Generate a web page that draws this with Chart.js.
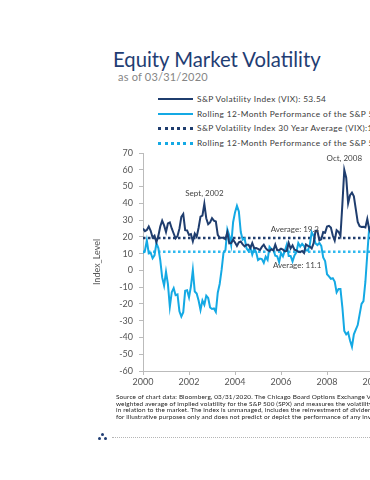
<!DOCTYPE html>
<html>
<head>
<meta charset="utf-8">
<script src="https://cdn.jsdelivr.net/npm/chart.js@4/dist/chart.umd.min.js"></script>
<style>
  html, body { margin: 0; padding: 0; background: #fff; }
  body { width: 370px; height: 480px; overflow: hidden; position: relative; font-family: Lato, "DejaVu Sans", sans-serif; }
  #title { position: absolute; left: 113px; top: 47px; font-size: 20.3px; color: #1f3d73; white-space: nowrap; }
  #sub { position: absolute; left: 118px; top: 70px; font-size: 11px; letter-spacing: 0.2px; color: #858585; white-space: nowrap; }
  .lg { position: absolute; left: 158px; height: 12px; white-space: nowrap; font-size: 8.3px; letter-spacing: 0.4px; color: #3a3a3a; }
  .lg i { position: absolute; left: 0; top: 5px; width: 35px; }
  .lg span { position: absolute; left: 39px; top: 0; line-height: 12px; }
  #wrap { position: absolute; left: 0; top: 140px; }
  #note { position: absolute; left: 116px; top: 394px; font-size: 6.4px; line-height: 6.5px; letter-spacing: 0.15px; color: #1a1a1a; white-space: nowrap; }
  #rule { position: absolute; left: 112px; top: 437px; width: 260px; border-top: 1px dotted #b5b5b5; }
  .dot { position: absolute; width: 3px; height: 3px; border-radius: 50%; background: #1f3d73; }
</style>
</head>
<body>
<div id="title">Equity Market Volatility</div>
<div id="sub">as of 03/31/2020</div>
<div id="legend"></div>
<div id="wrap"><canvas id="chart" width="627" height="255"></canvas></div>
<div id="note">
  Source of chart data: Bloomberg, 03/31/2020. The Chicago Board Options Exchange Volatility Index (VIX) is a<br>
  weighted average of implied volatility for the S&amp;P 500 (SPX) and measures the volatility of the market<br>
  in relation to the market. The index is unmanaged, includes the reinvestment of dividends and is<br>
  for illustrative purposes only and does not predict or depict the performance of any investment.
</div>
<div id="rule"></div>
<div class="dot" style="left:101px;top:433px"></div>
<div class="dot" style="left:98px;top:437px"></div>
<div class="dot" style="left:104px;top:437px"></div>
<script>
// ===== Dados (mensal, jan/2000 em diante) =====
const startYear = 2000;
const endX = 2020.17;
const xTicks = [2000, 2002, 2004, 2006, 2008, 2010, 2012, 2014, 2016, 2018, 2020];
const yTicks = [70, 60, 50, 40, 30, 20, 10, 0, -10, -20, -30, -40, -50, -60];

const vix = [
  24.95, 23.37, 24.11, 26.20, 23.65, 19.54, 20.74, 16.84, 20.57, 26.20, 29.65, 26.85,
  22.9, 28.0, 28.6, 25.0, 22.0, 19.1, 20.5, 24.9, 31.9, 33.6, 24.0, 23.8,
  21.09, 21.59, 17.40, 21.91, 19.98, 25.40, 32.03, 32.64, 39.69, 31.10, 27.50, 28.62,
  31.17, 29.63, 29.15, 21.21, 19.47, 19.52, 19.49, 18.63, 22.72, 16.10, 16.32, 18.31,
  16.63, 14.55, 16.74, 17.19, 15.50, 14.34, 15.32, 15.29, 13.34, 16.27, 13.24, 13.29,
  12.82, 12.08, 14.02, 15.31, 13.29, 12.04, 11.57, 12.60, 11.92, 15.32, 12.06, 12.07,
  12.95, 12.34, 11.39, 11.59, 16.44, 13.08, 14.95, 12.31, 11.98, 11.10, 10.91, 11.56,
  10.42, 15.42, 14.64, 14.22, 13.05, 16.23, 23.52, 23.38, 18.00, 18.53, 22.87, 22.50,
  26.20, 26.54, 25.61, 20.79, 17.83, 23.95, 22.94, 20.65, 39.39, 59.89, 55.28, 40.00,
  44.84, 46.35, 44.14, 36.50, 28.92, 26.35, 25.92, 26.01, 25.61, 30.69, 24.51, 21.68,
  24.62, 19.50
];

const spxRolling = [
  10.3, 11.7, 17.9, 10.1, 10.5, 7.2, 9.0, 16.3, 13.3, 6.1, -4.2, -9.1,
  -0.9, -8.2, -21.7, -13.0, -10.6, -14.8, -14.3, -24.4, -27.5, -24.9, -12.2, -11.9,
  -16.1, -9.5, 0.2, -12.6, -13.8, -18.0, -23.6, -18.0, -20.5, -15.1, -16.5, -22.1,
  -23.0, -22.7, -24.8, -13.3, -8.1, 0.3, 10.6, 12.1, 24.4, 20.8, 15.1, 28.7,
  34.6, 38.5, 35.1, 22.9, 18.3, 19.1, 13.2, 11.5, 13.9, 9.4, 12.9, 10.9,
  6.2, 7.0, 6.7, 4.5, 8.2, 6.3, 14.0, 12.6, 12.3, 8.7, 8.4, 4.9,
  10.4, 8.4, 11.7, 15.4, 8.6, 8.6, 5.4, 8.9, 10.8, 16.3, 14.2, 15.8,
  14.5, 12.0, 11.8, 15.2, 22.8, 20.6, 16.1, 15.1, 16.4, 14.6, 7.7, 5.5,
  -2.3, -3.6, -5.1, -4.7, -6.7, -13.1, -11.1, -11.1, -22.0, -36.1, -38.1, -37.0,
  -41.8, -45.5, -38.1, -35.3, -32.6, -26.2, -20.0, -18.3, -6.9, 9.8, 25.4, 26.5,
  33.1, 53.6
];

const vixAvg = 19.3;
const spxAvg = 11.1;

const seriesNames = [
  'S&P Volatility Index (VIX): 53.54',
  'Rolling 12-Month Performance of the S&P 500 Total Return Index',
  'S&P Volatility Index 30 Year Average (VIX):19.3',
  'Rolling 12-Month Performance of the S&P 500 Total Return Average: 11.1'
];

const notes = [
  { x: 2002.67, y: 39.69, text: 'Sept, 2002', dy: -10 },
  { x: 2008.75, y: 59.89, text: 'Oct, 2008', dy: -12 },
  { x: 2006.6, y: vixAvg, text: 'Average: 19.3', dy: -9 },
  { x: 2006.7, y: spxAvg, text: 'Average: 11.1', dy: 14 }
];

// ===== Helpers =====
const NAVY = '#1f3d6e';
const SKY = '#14a9e4';
const toPts = arr => arr.map((v, i) => ({ x: startYear + i / 12, y: v }));
const flat = v => [{ x: startYear, y: v }, { x: endX, y: v }];

// ===== Legenda (HTML) =====
const legendStyles = [
  `border-top:2px solid ${NAVY}`,
  `border-top:2px solid ${SKY}`,
  `border-top:3px dotted ${NAVY}`,
  `border-top:3px dotted ${SKY}`
];
const legendTops = [93, 108, 122, 137];
document.getElementById('legend').innerHTML = seriesNames.map((n, i) =>
  `<div class="lg" style="top:${legendTops[i]}px"><i style="${legendStyles[i]}"></i><span>${n.replace(/&/g, '&amp;')}</span></div>`
).join('');

// ===== Anotações =====
const notesPlugin = {
  id: 'notes',
  afterDatasetsDraw(chart) {
    const { ctx, scales } = chart;
    ctx.save();
    ctx.font = '8px Lato, sans-serif';
    ctx.fillStyle = '#444';
    ctx.textAlign = 'center';
    ctx.textBaseline = 'middle';
    notes.forEach(n => {
      ctx.fillText(n.text, scales.x.getPixelForValue(n.x), scales.y.getPixelForValue(n.y) + n.dy);
    });
    ctx.restore();
  }
};

new Chart(document.getElementById('chart'), {
  type: 'line',
  data: {
    datasets: [
      { label: seriesNames[0], data: toPts(vix), borderColor: NAVY, borderWidth: 2, order: 1 },
      { label: seriesNames[1], data: toPts(spxRolling), borderColor: SKY, borderWidth: 2, order: 2 },
      { label: seriesNames[2], data: flat(vixAvg), borderColor: NAVY, borderWidth: 2.5, borderDash: [2.5, 2.5], order: 3 },
      { label: seriesNames[3], data: flat(spxAvg), borderColor: '#2fb8ee', borderWidth: 2.5, borderDash: [2.5, 2.5], order: 4 }
    ]
  },
  options: {
    responsive: false,
    animation: false,
    elements: { point: { radius: 0 }, line: { tension: 0, borderCapStyle: 'butt' } },
    layout: { padding: { top: 13, left: 92, right: 20, bottom: 0 } },
    plugins: { legend: { display: false }, tooltip: { enabled: false } },
    scales: {
      x: {
        type: 'linear',
        min: startYear,
        max: endX,
        afterFit: s => { s.height = 24; },
        afterBuildTicks: s => { s.ticks = xTicks.map(v => ({ value: v })); },
        grid: { drawOnChartArea: false, tickLength: 4, color: '#bbb' },
        border: { color: '#bbb' },
        ticks: { padding: 2, color: '#555', font: { family: 'Lato', size: 9 }, callback: v => String(v) }
      },
      y: {
        min: -60,
        max: 70,
        afterFit: s => { s.width = 51; },
        afterBuildTicks: s => { s.ticks = yTicks.map(v => ({ value: v })); },
        grid: { drawOnChartArea: false, tickLength: 4, color: '#bbb' },
        border: { color: '#bbb' },
        ticks: { padding: 6, color: '#555', font: { family: 'Lato', size: 9 } },
        title: { display: true, text: 'Index_Level', color: '#555', padding: 0, font: { family: 'Lato', size: 9 } }
      }
    }
  },
  plugins: [notesPlugin]
});
</script>
</body>
</html>
